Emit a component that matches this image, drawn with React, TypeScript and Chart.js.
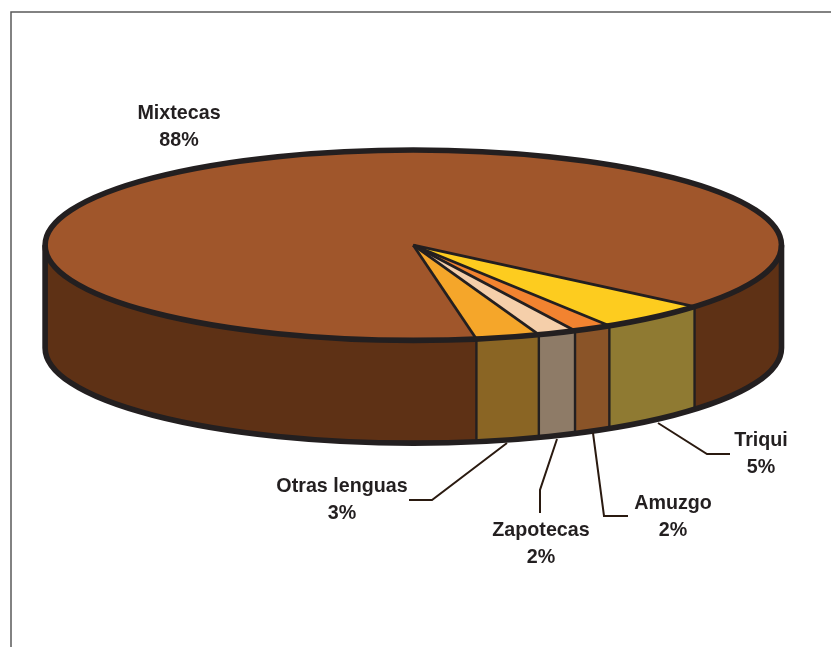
import React, { useEffect, useRef } from "react";
import { Chart, registerables } from "chart.js";

Chart.register(...registerables);

const categories = ["Mixtecas", "Triqui", "Amuzgo", "Zapotecas", "Otras lenguas"];
const values = [88.4, 4.87, 1.69, 1.69, 2.78];
const shownPercents = ["88%", "5%", "2%", "2%", "3%"];

const topColors = ["#A0562B", "#FDCC1F", "#F28330", "#F5CFAA", "#F5A62A"];
const wallColors = ["#5E3115", "#8F7A32", "#8A5428", "#8E7B67", "#8A6524"];
const INK = "#231F20";
const LEADER = "#2A1A10";

const RX = 368.2;
const RY = 95.2;
const DEPTH = 102.7;

// Label anchor and leader-line layout, one entry per category
const labelAt = [
  { x: 179, y: 114 },
  { x: 761, y: 441 },
  { x: 673, y: 504 },
  { x: 541, y: 531 },
  { x: 342, y: 487 },
];
const leaders: number[][][] = [
  [],
  [[658, 423], [707, 454], [730, 454]],
  [[593, 433], [604, 516], [628, 516]],
  [[557, 439], [540, 490], [540, 513]],
  [[507, 443], [432, 500], [409, 500]],
];

const pie3d = {
  id: "pie3d",
  beforeDraw(chart: any) {
    const { ctx, width, height } = chart;
    ctx.save();
    ctx.fillStyle = "#FFFFFF";
    ctx.fillRect(0, 0, width, height);
    ctx.strokeStyle = "#5A5A5A";
    ctx.lineWidth = 1.5;
    ctx.beginPath();
    ctx.moveTo(11, height);
    ctx.lineTo(11, 12);
    ctx.lineTo(width, 12);
    ctx.stroke();
    ctx.restore();
  },
  beforeDatasetsDraw(chart: any) {
    const { ctx } = chart;
    const arcs = chart.getDatasetMeta(0).data;
    const cx = arcs[0].x;
    const cy = arcs[0].y;
    const R = arcs[0].outerRadius;

    // side walls: the front half of each slice, pushed down by the depth
    arcs.forEach((arc: any, i: number) => {
      for (let k = -1; k <= 2; k++) {
        const a0 = Math.max(arc.startAngle, k * 2 * Math.PI);
        const a1 = Math.min(arc.endAngle, k * 2 * Math.PI + Math.PI);
        if (a1 <= a0) continue;
        ctx.beginPath();
        ctx.ellipse(cx, cy, RX, RY, 0, a0, a1, false);
        ctx.ellipse(cx, cy + DEPTH, RX, RY, 0, a1, a0, true);
        ctx.closePath();
        ctx.fillStyle = wallColors[i];
        ctx.fill();
      }
    });

    // the library's arcs become the flattened top face
    ctx.save();
    ctx.translate(cx, cy);
    ctx.scale(RX / R, RY / R);
    ctx.translate(-cx, -cy);
  },
  afterDatasetsDraw(chart: any) {
    const { ctx } = chart;
    ctx.restore();
    const arcs = chart.getDatasetMeta(0).data;
    const cx = arcs[0].x;
    const cy = arcs[0].y;

    ctx.save();
    ctx.strokeStyle = INK;
    ctx.lineCap = "butt";
    ctx.lineJoin = "round";

    // slice spokes and wall separators
    arcs.forEach((arc: any) => {
      const px = cx + RX * Math.cos(arc.startAngle);
      const py = cy + RY * Math.sin(arc.startAngle);
      ctx.lineWidth = 2.8;
      ctx.beginPath();
      ctx.moveTo(cx, cy);
      ctx.lineTo(px, py);
      ctx.stroke();
      ctx.lineWidth = 2.4;
      ctx.beginPath();
      ctx.moveTo(px, py);
      ctx.lineTo(px, py + DEPTH);
      ctx.stroke();
    });

    // outline
    ctx.lineWidth = 5.6;
    ctx.beginPath();
    ctx.ellipse(cx, cy, RX, RY, 0, 0, Math.PI * 2);
    ctx.stroke();
    ctx.beginPath();
    ctx.moveTo(cx + RX, cy);
    ctx.lineTo(cx + RX, cy + DEPTH);
    ctx.ellipse(cx, cy + DEPTH, RX, RY, 0, 0, Math.PI, false);
    ctx.lineTo(cx - RX, cy);
    ctx.stroke();

    // leader lines
    ctx.strokeStyle = LEADER;
    ctx.lineWidth = 2;
    ctx.lineJoin = "miter";
    leaders.forEach((pts) => {
      if (!pts.length) return;
      ctx.beginPath();
      pts.forEach(([x, y], j) => (j ? ctx.lineTo(x, y) : ctx.moveTo(x, y)));
      ctx.stroke();
    });

    // labels
    ctx.fillStyle = INK;
    ctx.font = 'bold 19.7px "Liberation Sans", Arial, sans-serif';
    ctx.textAlign = "center";
    ctx.textBaseline = "middle";
    categories.forEach((name, i) => {
      const { x, y } = labelAt[i];
      ctx.fillText(name, x, y);
      ctx.fillText(shownPercents[i], x, y + 27);
    });
    ctx.restore();
  },
};

export default function App() {
  const ref = useRef<HTMLCanvasElement>(null);
  useEffect(() => {
    if (!ref.current) return;
    const chart = new Chart(ref.current, {
      type: "pie",
      data: {
        labels: categories,
        datasets: [
          {
            data: values,
            backgroundColor: topColors,
            borderWidth: 0,
            clip: false,
          } as any,
        ],
      },
      options: {
        responsive: false,
        animation: false,
        rotation: 170.13,
        events: [],
        layout: { padding: { left: 0, right: 4.4, top: 0, bottom: 156.6 } },
        plugins: { legend: { display: false }, tooltip: { enabled: false } },
      },
      plugins: [pie3d],
    });
    return () => chart.destroy();
  }, []);
  return (
    <canvas
      ref={ref}
      width={831}
      height={647}
      style={{ position: "absolute", left: 0, top: 0, display: "block", width: 831, height: 647 }}
    />
  );
}
